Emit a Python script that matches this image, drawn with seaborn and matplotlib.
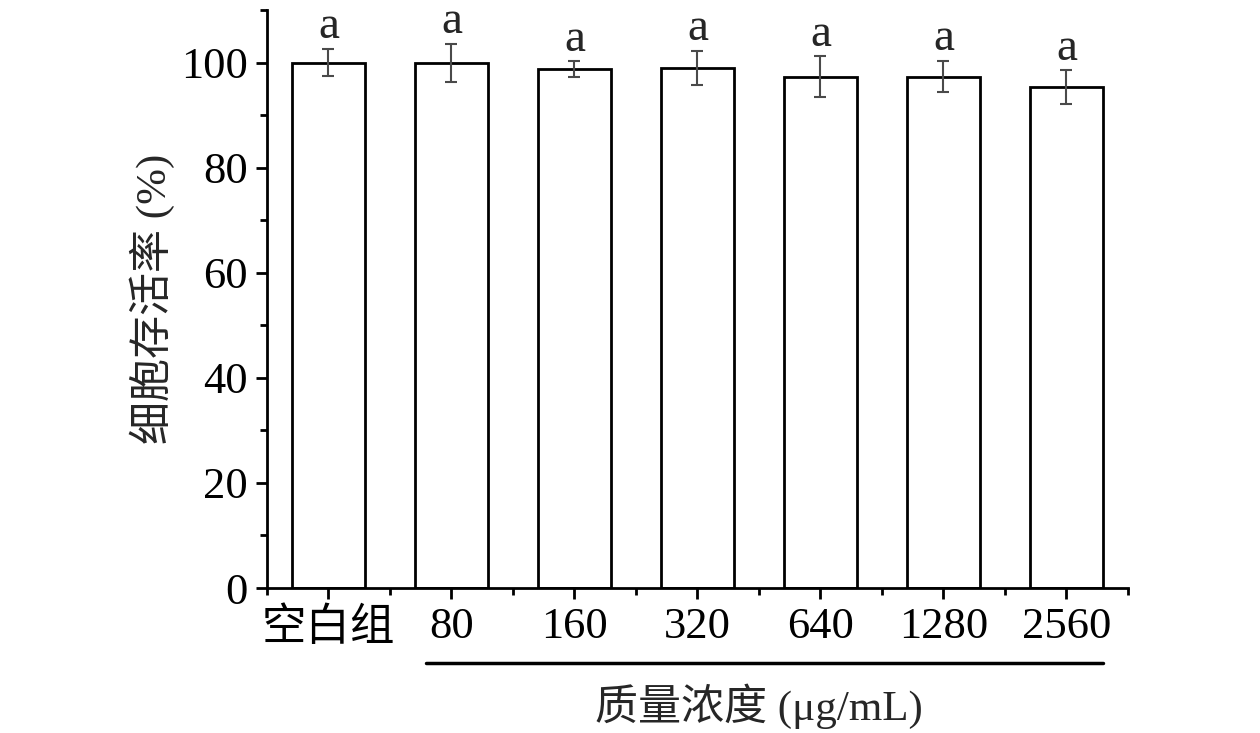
import matplotlib
matplotlib.use('Agg')
import matplotlib.pyplot as plt
import matplotlib.transforms as mtransforms
from matplotlib.ticker import MultipleLocator, FixedLocator
import seaborn as sns

groups = ['空白组', '80', '160', '320', '640', '1280', '2560']
viability = [100.0, 99.9, 98.7, 99.0, 97.3, 97.3, 95.3]
errors = [2.6, 3.7, 1.5, 3.2, 3.9, 3.0, 3.2]
letters = ['a', 'a', 'a', 'a', 'a', 'a', 'a']

sns.set_theme(style='ticks')
plt.rcParams['font.family'] = ['Liberation Serif', 'Noto Sans CJK SC']
plt.rcParams['axes.unicode_minus'] = False

fig = plt.figure(figsize=(12.6, 7.33), dpi=100)
ax = fig.add_axes([0.2119, 0.1978, 0.6833, 0.7886])

sns.barplot(x=groups, y=viability, color='white', edgecolor='black',
            linewidth=2, width=0.6, errorbar=None, ax=ax)
for p in ax.patches:
    p.set_facecolor('white')

xs = list(range(len(groups)))
ax.errorbar(xs, viability, yerr=errors, fmt='none', ecolor='#4a4a4a',
            elinewidth=1.5, capsize=4.5, capthick=1.5, zorder=3)

for x, v, e, t in zip(xs, viability, errors, letters):
    ax.text(x, v + e + 2.0, t, ha='center', va='baseline', fontsize=34)

ax.set_xlim(-0.5, 6.5)
ax.set_ylim(0, 110)
ax.yaxis.set_major_locator(FixedLocator([0, 20, 40, 60, 80, 100]))
ax.yaxis.set_minor_locator(MultipleLocator(10))
ax.xaxis.set_minor_locator(FixedLocator([i - 0.5 for i in range(len(groups) + 1)]))

sns.despine(ax=ax)
for s in ['left', 'bottom']:
    ax.spines[s].set_linewidth(2)
    ax.spines[s].set_color('black')

ax.tick_params(axis='both', which='major', direction='out', length=8, width=2,
               labelsize=32, colors='black', pad=6)
ax.tick_params(axis='both', which='minor', direction='out', length=5, width=2,
               colors='black')
ax.set_xlabel('')
ax.set_ylabel('细胞存活率 (%)', fontsize=31, labelpad=4)

# bracket under the concentration labels
trans = mtransforms.blended_transform_factory(ax.transData, ax.transAxes)
ax.plot([0.79, 6.3], [-0.13, -0.13], color='black', lw=2.5,
        transform=trans, clip_on=False)
ax.text(3.5, -0.205, '质量浓度 (μg/mL)', ha='center', va='center',
        fontsize=31, transform=trans)

fig.savefig('out.png', dpi=100, facecolor='white')
